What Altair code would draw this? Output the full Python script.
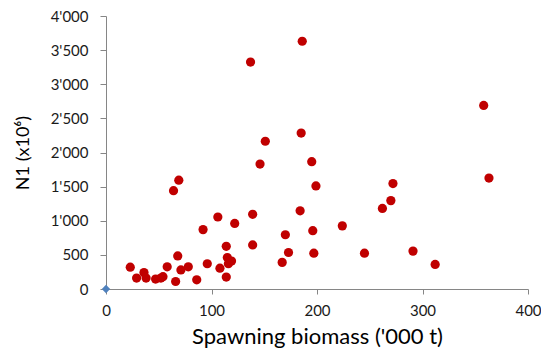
import altair as alt
import pandas as pd

biomass = [23, 29, 36, 38, 47, 52, 54, 58, 64, 69, 68, 66, 71, 78, 86, 92, 96,
           106, 108, 114, 115, 116, 119, 114, 122, 139, 139, 146, 151, 185, 195,
           199, 184, 170, 196, 224, 173, 167, 197, 245, 272, 270, 262, 291, 312,
           358, 363, 137, 186]
n1 = [320, 160, 240, 160, 145, 160, 180, 325, 1440, 1595, 485, 110, 280, 325,
      135, 870, 370, 1055, 305, 625, 460, 370, 410, 175, 960, 1095, 645, 1830,
      2165, 2285, 1865, 1510, 1145, 795, 855, 925, 535, 390, 525, 525, 1545,
      1295, 1180, 555, 360, 2690, 1625, 3325, 3630]
origin_x = [0]
origin_y = [0]
x_ticks = [0, 100, 200, 300, 400]
y_ticks = [0, 500, 1000, 1500, 2000, 2500, 3000, 3500, 4000]

df = pd.DataFrame({"biomass": biomass, "n1": n1})
df0 = pd.DataFrame({"biomass": origin_x, "n1": origin_y})

FONT = "Lato"
AX = "#868686"
LBL = "#1a1a1a"
label_expr = "replace(format(datum.value, ','), ',', \"'\")"

xenc = alt.X("biomass:Q",
             scale=alt.Scale(domain=[0, 400], nice=False),
             axis=alt.Axis(values=x_ticks, title="Spawning biomass ('000 t)",
                           grid=False, domainColor=AX, tickColor=AX, tickSize=5,
                           labelFont=FONT, labelFontSize=15, labelColor=LBL,
                           labelPadding=9, labelOverlap=False, labelFlush=False,
                           titleFont=FONT, titleFontSize=22,
                           titleFontWeight="normal", titleColor="#000000",
                           titlePadding=8))
yenc = alt.Y("n1:Q",
             scale=alt.Scale(domain=[0, 4000], nice=False),
             axis=alt.Axis(values=y_ticks, title="N1 (x10⁶)", grid=False,
                           domainColor=AX, tickColor=AX, tickSize=6,
                           labelExpr=label_expr, labelFont=FONT, labelFontSize=15,
                           labelColor=LBL, labelPadding=12, labelOverlap=False,
                           labelFlush=False,
                           titleFont=FONT, titleFontSize=18,
                           titleFontWeight="normal", titleColor="#000000",
                           titlePadding=18))

pts = alt.Chart(df).mark_point(filled=True, shape="circle", size=85,
                               color="#C00000", opacity=1).encode(x=xenc, y=yenc)
orig = alt.Chart(df0).mark_point(filled=True, shape="diamond", size=70,
                                 color="#4F81BD", opacity=1, clip=False).encode(
    x=xenc, y=yenc)

chart = alt.layer(pts, orig).properties(
    width=422, height=273,
    autosize=alt.AutoSizeParams(type="none"),
    padding={"left": 98, "top": 8, "right": 13, "bottom": 60},
).configure_view(stroke=None)

chart.save("out.html", embed_options={"renderer": "svg", "actions": False})
